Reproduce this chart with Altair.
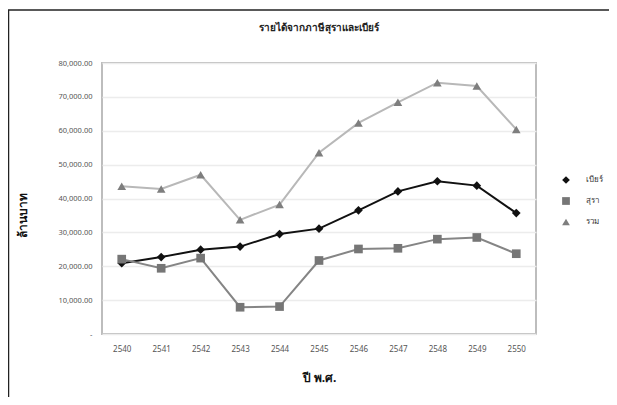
import altair as alt
import pandas as pd

years = ["2540", "2541", "2542", "2543", "2544", "2545", "2546", "2547", "2548", "2549", "2550"]
beer = [20900, 22700, 24900, 25800, 29500, 31100, 36500, 42100, 45100, 43800, 35700]
spirits = [22100, 19400, 22400, 7900, 8100, 21700, 25100, 25300, 28000, 28500, 23700]
total = [43600, 42800, 47000, 33700, 38200, 53500, 62300, 68400, 74200, 73200, 60400]
series_names = ["เบียร์", "สุรา", "รวม"]
y_ticks = [0, 10000, 20000, 30000, 40000, 50000, 60000, 70000, 80000]

rows = []
for name, vals in zip(series_names, [beer, spirits, total]):
    for yr, v in zip(years, vals):
        rows.append({"year": yr, "value": v, "series": name})
df = pd.DataFrame(rows)

line_colors = ["#111111", "#858585", "#b8b8b8"]
point_colors = ["#111111", "#767676", "#7e7e7e"]
shapes = ["diamond", "square", "triangle-up"]

FONT = "Noto Sans"

legend = alt.Legend(title=None, orient="none", legendX=460, legendY=113,
                    labelFontSize=8, labelColor="#333333", labelOffset=16,
                    symbolStrokeWidth=0, rowPadding=13, symbolSize=60)

x = alt.X("year:O", title="ปี พ.ศ.",
          scale=alt.Scale(type="point", padding=0.5),
          axis=alt.Axis(labelAngle=0, labelFontSize=8, labelColor="#555555",
                        ticks=False, domain=False, labelPadding=11,
                        titleFontSize=12, titleFontWeight="bold", titleColor="#111111",
                        titlePadding=19))
y = alt.Y("value:Q", title="ล้านบาท",
          scale=alt.Scale(domain=[0, 80000], nice=False),
          axis=alt.Axis(values=y_ticks,
                        labelExpr="datum.value == 0 ? '-' : format(datum.value, ',.2f')",
                        labelFontSize=7.5, labelColor="#555555", ticks=False, domain=False,
                        labelPadding=10, gridColor="#ececec", gridWidth=1.5,
                        titleFontSize=12, titleFontWeight="bold", titleColor="#111111",
                        titleX=-73, titleY=152))

lines = alt.Chart(df).mark_line(strokeWidth=2).encode(
    x=x, y=y,
    stroke=alt.Stroke("series:N", scale=alt.Scale(domain=series_names, range=line_colors), legend=legend),
    detail="series:N",
)

points = alt.Chart(df).mark_point(filled=True, opacity=1, size=75).encode(
    x=x, y=y,
    color=alt.Color("series:N", scale=alt.Scale(domain=series_names, range=point_colors),
                    legend=legend),
    shape=alt.Shape("series:N", scale=alt.Scale(domain=series_names, range=shapes), legend=legend),
)

frame_top = alt.Chart(pd.DataFrame({"a": [0]})).mark_rule(color="#222222", strokeWidth=1.5).encode(
    x=alt.value(-94), x2=alt.value(520), y=alt.value(-53))
frame_left = alt.Chart(pd.DataFrame({"a": [0]})).mark_rule(color="#222222", strokeWidth=1.5).encode(
    x=alt.value(-93.5), y=alt.value(-53), y2=alt.value(340))

chart = alt.layer(lines, points, frame_top, frame_left).properties(
    width=434, height=271,
    title=alt.TitleParams("รายได้จากภาษีสุราและเบียร์", fontSize=10, fontWeight="bold",
                          color="#222222", anchor="middle", offset=-24),
    autosize=alt.AutoSizeParams(type="none"),
    padding={"left": 94, "top": 55, "right": 73, "bottom": 63},
).configure(font=FONT).configure_view(stroke="#bdbdbd", strokeWidth=2)

chart.save("out.html", embed_options={"renderer": "svg", "actions": False})
